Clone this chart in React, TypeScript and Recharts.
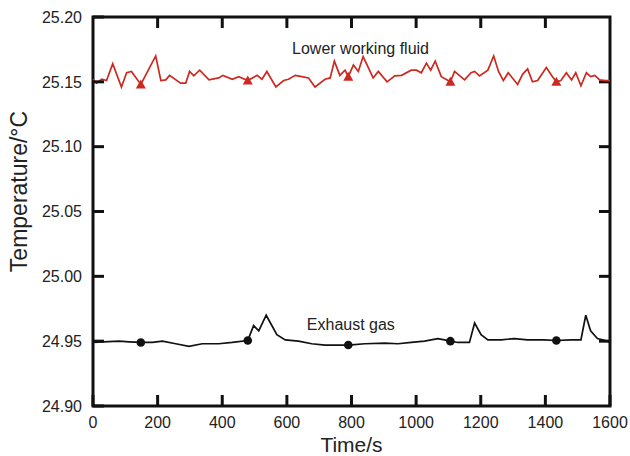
import React from "react";
import {
  ComposedChart,
  Line,
  XAxis,
  YAxis,
  ReferenceDot,
  ReferenceArea,
  ReferenceLine,
} from "recharts";

// time stamps (s) and temperatures (°C)
const fluidTime = [
  0, 11, 27, 42, 61, 88, 104, 119, 148, 194, 210, 225, 237, 271, 287, 299, 312,
  330, 359, 389, 402, 431, 451, 479, 508, 523, 538, 566, 590, 605, 626, 646,
  667, 687, 718, 734, 747, 764, 780, 790, 806, 821, 836, 867, 883, 910, 934,
  955, 985, 1001, 1016, 1032, 1045, 1059, 1078, 1106, 1119, 1150, 1170, 1181,
  1196, 1222, 1240, 1255, 1270, 1285, 1314, 1330, 1345, 1360, 1376, 1403, 1422,
  1434, 1448, 1465, 1481, 1494, 1510, 1527, 1540, 1553, 1568, 1586, 1600,
];
const fluidTemp = [
  25.152, 25.149, 25.152, 25.151, 25.164, 25.146, 25.157, 25.158, 25.148,
  25.17, 25.151, 25.1515, 25.155, 25.149, 25.149, 25.158, 25.1546, 25.159,
  25.1515, 25.153, 25.155, 25.152, 25.154, 25.151, 25.155, 25.152, 25.158,
  25.146, 25.151, 25.152, 25.155, 25.154, 25.153, 25.146, 25.152, 25.153,
  25.166, 25.155, 25.159, 25.154, 25.163, 25.158, 25.1695, 25.153, 25.158,
  25.15, 25.1546, 25.155, 25.159, 25.159, 25.157, 25.1644, 25.159, 25.166,
  25.154, 25.15, 25.158, 25.1515, 25.157, 25.158, 25.1546, 25.159, 25.17,
  25.158, 25.151, 25.157, 25.148, 25.156, 25.16, 25.15, 25.151, 25.161,
  25.154, 25.15, 25.151, 25.157, 25.1515, 25.157, 25.147, 25.157, 25.154,
  25.155, 25.1515, 25.151, 25.151,
];

const gasTime = [
  0, 81, 112, 148, 184, 215, 256, 297, 338, 389, 431, 479, 497, 513, 536, 569,
  595, 636, 677, 718, 759, 790, 841, 903, 944, 985, 1026, 1067, 1088, 1106,
  1129, 1165, 1181, 1201, 1222, 1263, 1304, 1345, 1396, 1434, 1479, 1510, 1525,
  1540, 1561, 1592, 1600,
];
const gasTemp = [
  24.949, 24.95, 24.9495, 24.949, 24.949, 24.95, 24.948, 24.946, 24.948,
  24.948, 24.949, 24.9505, 24.962, 24.958, 24.97, 24.955, 24.951, 24.95,
  24.948, 24.947, 24.947, 24.947, 24.948, 24.9485, 24.948, 24.949, 24.95,
  24.952, 24.951, 24.95, 24.949, 24.949, 24.964, 24.955, 24.951, 24.951,
  24.952, 24.951, 24.951, 24.9505, 24.951, 24.951, 24.97, 24.958, 24.952,
  24.95, 24.949,
];

const markerTimes = [148, 479, 790, 1106, 1434];

const xTicks = [0, 200, 400, 600, 800, 1000, 1200, 1400, 1600];
const yTicks = [24.9, 24.95, 25.0, 25.05, 25.1, 25.15, 25.2];

const fluidData = fluidTime.map((t, i) => ({ t, v: fluidTemp[i] }));
const gasData = gasTime.map((t, i) => ({ t, v: gasTemp[i] }));
const fluidMarks = fluidData.filter((d) => markerTimes.includes(d.t));
const gasMarks = gasData.filter((d) => markerTimes.includes(d.t));

const X0 = 0;
const X1 = 1600;
const Y0 = 24.9;
const Y1 = 25.2;
const TICK = 11;
// same inward tick length expressed in data units, for the top and right edges
const DX = 34;
const DY = 0.0085;

const RED = "#cc2a20";
const INK = "#111";
const TXT = "#222";

const tickLine = { stroke: INK, strokeWidth: 3 };

// tickSize is negative, so recharts draws the marks inward and hands us shifted coords
const BottomTick = ({ x, y, payload }: any) => (
  <text x={x} y={y + TICK + 22} textAnchor="middle" fontSize={16} fill={TXT}>
    {payload.value}
  </text>
);
const LeftTick = ({ x, y, payload }: any) => (
  <text x={x - TICK - 11} y={y + 5.7} textAnchor="end" fontSize={16} fill={TXT}>
    {Number(payload.value).toFixed(2)}
  </text>
);

const YTitle = ({ viewBox }: any) => {
  const cx = viewBox.x + 27;
  const cy = viewBox.y + viewBox.height / 2 - 20;
  return (
    <text
      x={cx}
      y={cy}
      textAnchor="middle"
      fontSize={23}
      fill={TXT}
      transform={`rotate(-90 ${cx} ${cy})`}
    >
      Temperature/°C
    </text>
  );
};

const triangle = ({ cx, cy, index }: any) => (
  <polygon
    key={`tri-${index}`}
    points={`${cx},${cy - 5} ${cx - 5},${cy + 4} ${cx + 5},${cy + 4}`}
    fill={RED}
  />
);
const circle = ({ cx, cy, index }: any) => (
  <circle key={`dot-${index}`} cx={cx} cy={cy} r={4.3} fill={INK} />
);

export default function App() {
  const innerX = xTicks.slice(1, -1);
  const innerY = yTicks.slice(1, -1);
  return (
    <div
      style={{
        position: "absolute",
        left: 0,
        top: 0,
        width: 630,
        height: 456,
        background: "#fff",
        fontFamily: '"Liberation Sans", Arial, sans-serif',
      }}
    >
      <ComposedChart
        width={630}
        height={456}
        margin={{ top: 17, right: 20, left: 0, bottom: 0 }}
      >
        <XAxis
          dataKey="t"
          type="number"
          domain={[X0, X1]}
          ticks={xTicks}
          interval={0}
          height={50}
          tickSize={-TICK}
          tickMargin={0}
          tickLine={tickLine}
          axisLine={false}
          tick={<BottomTick />}
          label={{
            value: "Time/s",
            position: "insideBottom",
            offset: 4,
            fontSize: 21,
            fill: TXT,
          }}
        />
        <YAxis
          type="number"
          domain={[Y0, Y1]}
          ticks={yTicks}
          interval={0}
          width={93}
          tickSize={-TICK}
          tickMargin={0}
          tickLine={tickLine}
          axisLine={false}
          tick={<LeftTick />}
          label={{ content: <YTitle /> }}
        />

        {innerX.map((t) => (
          <ReferenceLine
            key={`xt-${t}`}
            segment={[
              { x: t, y: Y1 },
              { x: t, y: Y1 - DY },
            ]}
            stroke={INK}
            strokeWidth={3}
          />
        ))}
        {innerY.map((v) => (
          <ReferenceLine
            key={`yr-${v}`}
            segment={[
              { x: X1, y: v },
              { x: X1 - DX, y: v },
            ]}
            stroke={INK}
            strokeWidth={3}
          />
        ))}

        <Line
          data={fluidData}
          dataKey="v"
          type="linear"
          stroke={RED}
          strokeWidth={1.7}
          dot={false}
          isAnimationActive={false}
        />
        <Line
          data={gasData}
          dataKey="v"
          type="linear"
          stroke={INK}
          strokeWidth={1.7}
          dot={false}
          isAnimationActive={false}
        />
        <Line
          data={fluidMarks}
          dataKey="v"
          stroke="none"
          dot={triangle}
          activeDot={false}
          isAnimationActive={false}
        />
        <Line
          data={gasMarks}
          dataKey="v"
          stroke="none"
          dot={circle}
          activeDot={false}
          isAnimationActive={false}
        />
        <ReferenceArea
          x1={X0}
          x2={X1}
          y1={Y0}
          y2={Y1}
          fill="none"
          fillOpacity={0}
          stroke={INK}
          strokeWidth={3}
          strokeOpacity={1}
        />
        <ReferenceDot
          x={828}
          y={25.176}
          r={0}
          fill="none"
          stroke="none"
          label={{
            value: "Lower working fluid",
            position: "center",
            fontSize: 16,
            fill: TXT,
          }}
        />
        <ReferenceDot
          x={798}
          y={24.9628}
          r={0}
          fill="none"
          stroke="none"
          label={{
            value: "Exhaust gas",
            position: "center",
            fontSize: 16,
            fill: TXT,
          }}
        />
      </ComposedChart>
    </div>
  );
}
